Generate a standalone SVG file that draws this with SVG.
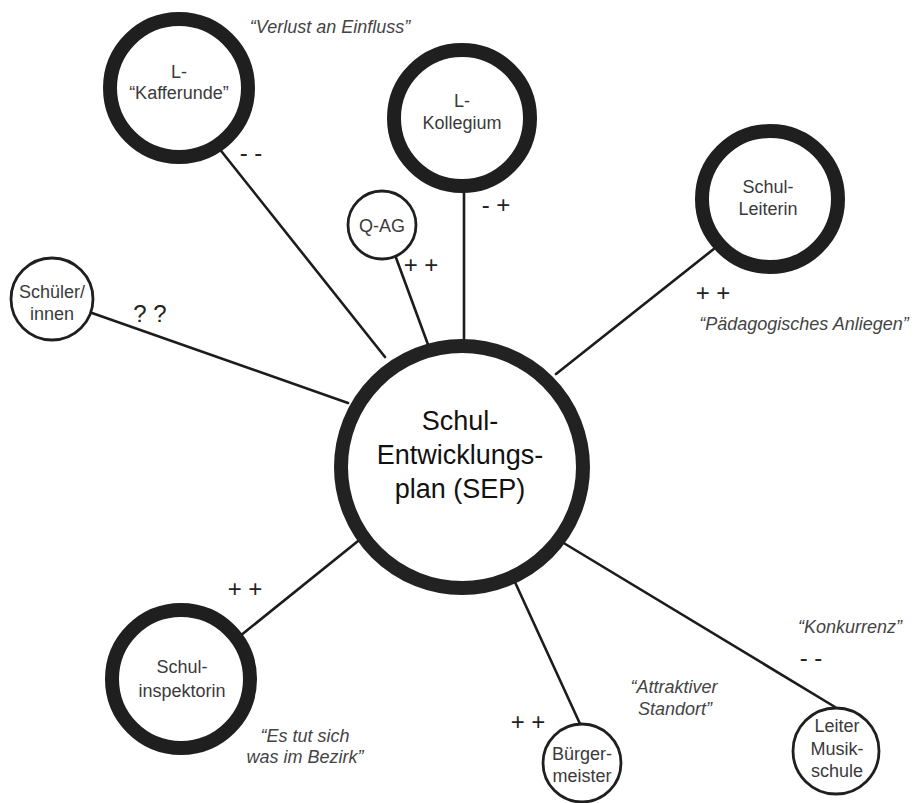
<svg xmlns="http://www.w3.org/2000/svg" width="915" height="803" viewBox="0 0 915 803">
<style>
.bg{fill:#fff}
.conn line{stroke:#1c1c1c;stroke-width:2.6;stroke-linecap:round}
.big{fill:#fff;stroke:#1f1f1f;stroke-width:14}
.small{fill:#fff;stroke:#1f1f1f;stroke-width:2.8}
.center{fill:#fff;stroke:#222;stroke-width:14}
.lbl{font-family:"Liberation Sans",Arial,sans-serif;font-size:18px;fill:#3a3a3a;text-anchor:middle}
.ctr{font-family:"Liberation Sans",Arial,sans-serif;font-size:27px;fill:#111;text-anchor:middle}
.quote{font-family:"Liberation Sans",Arial,sans-serif;font-size:18px;font-style:italic;fill:#444;text-anchor:middle}
.sign{font-family:"Liberation Sans",Arial,sans-serif;font-size:24px;fill:#222;text-anchor:middle}
</style>
<rect class="bg" x="0" y="0" width="915" height="803"/>
<g id="connectors" class="conn">
<line x1="218" y1="147" x2="385" y2="357"/>
<line x1="395" y1="255" x2="430" y2="350"/>
<line x1="464" y1="190" x2="464" y2="345"/>
<line x1="715" y1="248" x2="556" y2="374"/>
<line x1="92" y1="313" x2="348" y2="403"/>
<line x1="240" y1="636" x2="368" y2="533"/>
<line x1="581" y1="726" x2="514" y2="580"/>
<line x1="835" y1="707" x2="562" y2="542"/>
</g>
<g id="sep">
<circle class="center" cx="462" cy="467" r="121"/>
<text class="ctr" x="460" y="430">Schul-</text>
<text class="ctr" x="460" y="464">Entwicklungs-</text>
<text class="ctr" x="460" y="498">plan (SEP)</text>
</g>
<g id="kafferunde">
<circle class="big" cx="179" cy="88" r="69"/>
<text class="lbl" x="179" y="78">L-</text>
<text class="lbl" x="179" y="99">“Kafferunde”</text>
</g>
<g id="kollegium">
<circle class="big" cx="462" cy="118" r="68"/>
<text class="lbl" x="462" y="107">L-</text>
<text class="lbl" x="462" y="129">Kollegium</text>
</g>
<g id="qag">
<circle class="small" cx="382" cy="225" r="34"/>
<text class="lbl" x="382" y="232">Q-AG</text>
</g>
<g id="schulleiterin">
<circle class="big" cx="770" cy="199" r="68"/>
<text class="lbl" x="768" y="193">Schul-</text>
<text class="lbl" x="768" y="215">Leiterin</text>
</g>
<g id="schueler">
<circle class="small" cx="52" cy="299" r="41"/>
<text class="lbl" x="52" y="298">Schüler/</text>
<text class="lbl" x="52" y="320">innen</text>
</g>
<g id="schulinspektorin">
<circle class="big" cx="181" cy="679" r="69"/>
<text class="lbl" x="182" y="673">Schul-</text>
<text class="lbl" x="182" y="697">inspektorin</text>
</g>
<g id="buergermeister">
<circle class="small" cx="582" cy="763" r="39"/>
<text class="lbl" x="582" y="760">Bürger-</text>
<text class="lbl" x="582" y="782">meister</text>
</g>
<g id="musikschule">
<circle class="small" cx="836" cy="751" r="43"/>
<text class="lbl" x="837" y="732">Leiter</text>
<text class="lbl" x="837" y="755">Musik-</text>
<text class="lbl" x="837" y="777">schule</text>
</g>
<g id="labels">
<text class="quote" x="330" y="33">“Verlust an Einfluss”</text>
<text class="sign" x="251" y="161">- -</text>
<text class="sign" x="496" y="213">- +</text>
<text class="sign" x="421" y="273">+ +</text>
<text class="sign" x="713" y="301">+ +</text>
<text class="quote" x="804" y="330">“Pädagogisches Anliegen”</text>
<text class="sign" x="150" y="322">? ?</text>
<text class="sign" x="245" y="597">+ +</text>
<text class="quote" x="305" y="742">“Es tut sich</text>
<text class="quote" x="305" y="763">was im Bezirk”</text>
<text class="sign" x="528" y="730">+ +</text>
<text class="quote" x="674" y="693">“Attraktiver</text>
<text class="quote" x="675" y="715">Standort”</text>
<text class="quote" x="850" y="633">“Konkurrenz”</text>
<text class="sign" x="811" y="666">- -</text>
</g>
</svg>
